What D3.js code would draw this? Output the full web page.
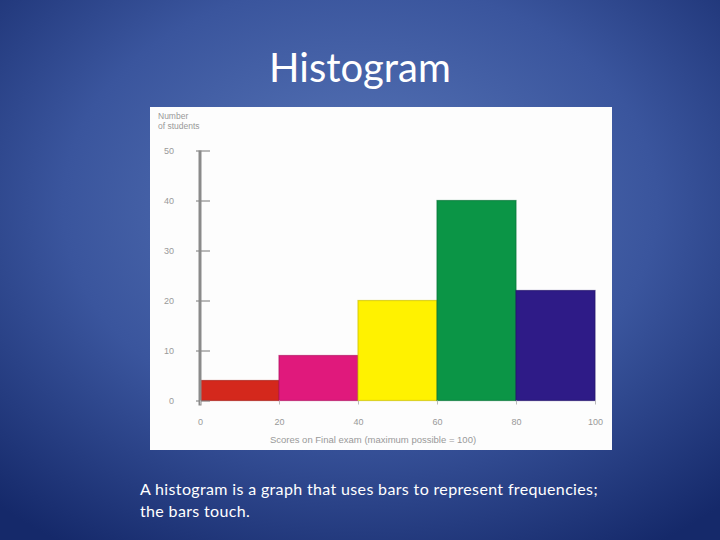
<!DOCTYPE html>
<html><head><meta charset="utf-8">
<script src="https://cdn.jsdelivr.net/npm/d3@7"></script>
<style>html,body{margin:0;padding:0;background:#2a4184;}svg{display:block;}</style>
</head><body>
<svg id="c" width="720" height="540"></svg>
<script>
const binEdges = [0, 20, 40, 60, 80, 100];
const counts = [4, 9, 20, 40, 22];
const barColors = ["#d4281c", "#e0197c", "#fff200", "#0b9546", "#2e1b87"];
const yTicks = [0, 10, 20, 30, 40, 50];
const xTicks = [0, 20, 40, 60, 80, 100];
const title = "Histogram";
const caption = ["A histogram is a graph that uses bars to represent frequencies;", "the bars touch."];
const yLabel = ["Number", "of students"];
const xLabel = "Scores on Final exam (maximum possible = 100)";

const svg = d3.select("#c");
const defs = svg.append("defs");
const grad = defs.append("radialGradient").attr("id","bg")
  .attr("cx","50%").attr("cy","38%").attr("r","75%");
grad.append("stop").attr("offset","0%").attr("stop-color","#5a78b9");
grad.append("stop").attr("offset","55%").attr("stop-color","#3a559d");
grad.append("stop").attr("offset","100%").attr("stop-color","#15296a");
svg.append("rect").attr("width",720).attr("height",540).attr("fill","url(#bg)");

svg.append("text").attr("x",360).attr("y",82).attr("text-anchor","middle")
  .attr("fill","#fff").attr("font-family","Lato, 'Open Sans', sans-serif")
  .attr("font-size",40).text(title);

// white panel
svg.append("rect").attr("x",150).attr("y",107).attr("width",462).attr("height",343).attr("fill","#fdfdfd");

const x = d3.scaleLinear().domain([0,100]).range([200,595]);
const y = d3.scaleLinear().domain([0,50]).range([400.5,150.5]);

const g = svg.append("g");
const bins = counts.map((c,i)=>({x0:binEdges[i], x1:binEdges[i+1], c, col:barColors[i]}));
g.selectAll("rect.bar").data(bins).enter().append("rect").attr("class","bar")
  .attr("x",d=>x(d.x0)).attr("width",d=>x(d.x1)-x(d.x0))
  .attr("y",d=>y(d.c)).attr("height",d=>y(0)-y(d.c))
  .attr("fill",d=>d.col)
  .attr("stroke",d=>d3.color(d.col).darker(0.6)).attr("stroke-width",1.2).attr("stroke-opacity",0.7);

const tickFont = "Liberation Sans, Arial, sans-serif";
// y axis
const yAxis = d3.axisLeft(y).tickValues(yTicks).tickSize(0).tickPadding(26).tickFormat(d3.format("d"));
const ya = svg.append("g").attr("transform","translate(200,0)").call(yAxis);
ya.select(".domain").remove();
ya.append("line").attr("x1",0).attr("x2",0).attr("y1",y(50)).attr("y2",y(0)+5)
  .attr("stroke","#8a8a8a").attr("stroke-width",3);
ya.selectAll(".tick").append("line").attr("x1",-4).attr("x2",10).attr("stroke","#777").attr("stroke-width",1);
ya.selectAll("text").attr("fill","#999").attr("font-family",tickFont).attr("font-size",9);

// x axis
const xAxis = d3.axisBottom(x).tickValues(xTicks).tickSize(4).tickPadding(14).tickFormat(d3.format("d"));
const xa = svg.append("g").attr("transform",`translate(0,${y(0)})`).call(xAxis);
xa.select(".domain").remove();
xa.selectAll(".tick line").attr("stroke","#bbb");
xa.selectAll("text").attr("fill","#999").attr("font-family",tickFont).attr("font-size",9);

svg.append("text").attr("x",373).attr("y",443).attr("text-anchor","middle")
  .attr("fill","#999").attr("font-family",tickFont).attr("font-size",9.5)
  .text(xLabel);

yLabel.forEach((t,i)=>{
  svg.append("text").attr("x",158).attr("y",119+i*10).attr("fill","#999")
    .attr("font-family",tickFont).attr("font-size",8.5).text(t);
});

caption.forEach((t,i)=>{
  svg.append("text").attr("x",140).attr("y",495+i*22).attr("fill","#fff")
    .attr("font-family","Lato, 'Open Sans', sans-serif").attr("font-size",16)
    .attr("letter-spacing",0.35).text(t);
});
</script>
</body></html>
